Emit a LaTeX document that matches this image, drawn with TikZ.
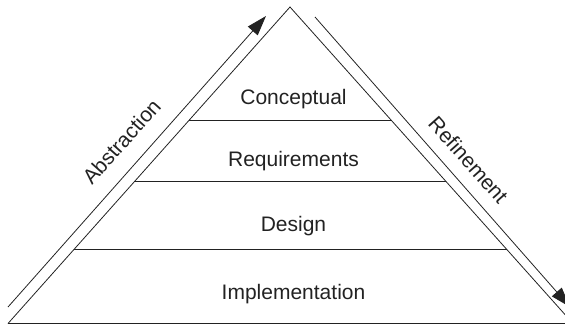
\documentclass[tikz,border=0pt]{standalone}
\usepackage{fontspec}
\setmainfont{Liberation Sans}
\usetikzlibrary{arrows.meta,calc}
\definecolor{ink}{HTML}{222222}
\begin{document}
\begin{tikzpicture}[x=1pt,y=-1pt,
  edge/.style={draw=ink,line width=0.8pt},
  flow/.style={draw=ink,line width=0.8pt,-{Triangle[length=20pt,width=13pt]}},
  lbl/.style={text=ink,font=\fontsize{21}{25}\selectfont,inner sep=0pt,anchor=base},
  side/.style={text=ink,font=\fontsize{21}{25}\selectfont,inner sep=0pt}]
\useasboundingbox (0,0) rectangle (565,325);
% triangle
\coordinate (apex) at (290,7);
\coordinate (bl) at (8,323.5);
\coordinate (br) at (573,323.5);
\draw[edge] (bl) -- (apex) -- (br);
\draw[edge] (bl) -- (565,323.5);
% layer separators
\coordinate (l1) at ($(bl)!0.6424!(apex)$);
\coordinate (r1) at ($(br)!0.6424!(apex)$);
\coordinate (l2) at ($(bl)!0.4494!(apex)$);
\coordinate (r2) at ($(br)!0.4494!(apex)$);
\coordinate (l3) at ($(bl)!0.2342!(apex)$);
\coordinate (r3) at ($(br)!0.2342!(apex)$);
\draw[edge] (l1) -- (r1);
\draw[edge] (l2) -- (r2);
\draw[edge] (l3) -- (r3);
% labels
\node[lbl] (conc) at (293.5,104.5) {Conceptual};
\node[lbl] (req) at (293.5,166) {Requirements};
\node[lbl] (des) at (293.5,231.5) {Design};
\node[lbl] (imp) at (293.5,299.5) {Implementation};
% arrows
\coordinate (a0) at (8,307);
\coordinate (a1) at (266,16);
\draw[flow] (a0) -- (a1);
\coordinate (r0) at (315,17);
\coordinate (rr) at (570,307);
\draw[flow] (r0) -- (rr);
\node[side,rotate=48.3] (abs) at (121.5,141.5) {Abstraction};
\node[side,rotate=-48.3] (ref) at (468.5,160) {Refinement};
\end{tikzpicture}
\end{document}
